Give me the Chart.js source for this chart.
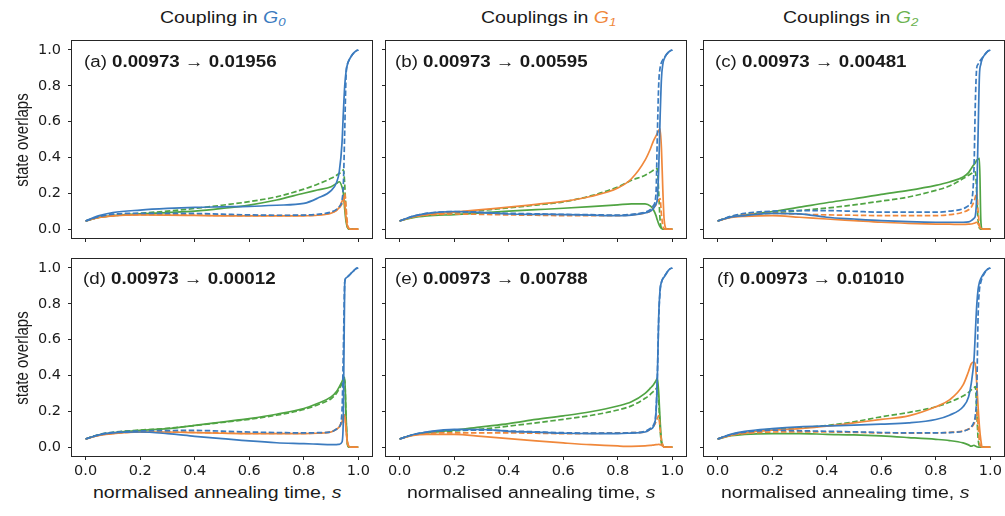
<!DOCTYPE html>
<html>
<head>
<meta charset="utf-8">
<script src="https://cdn.jsdelivr.net/npm/chart.js@4.4.1/dist/chart.umd.min.js"></script>
<style>
html, body { margin: 0; padding: 0; background: #fff; }
#fig { position: relative; width: 1005px; height: 516px; overflow: hidden;
       font-family: "Liberation Sans", Arial, sans-serif; color: #1a1a1a; }
.panel { position: absolute; }
.panel canvas { display: block; }
.txt { position: absolute; white-space: nowrap; font-size: 16px; line-height: 16px;
       transform: scaleX(1.22); transform-origin: 0 50%; }
.txt.lab { transform: scaleX(1.17); }
.txt b { font-weight: bold; }
.ytitle { position: absolute; white-space: nowrap; font-size: 15px; line-height: 15px;
          transform: translate(-50%, -50%) rotate(-90deg) scaleY(1.2); }
.g { font-style: italic; }
.g sub { font-size: 0.68em; vertical-align: -0.25em; line-height: 0; }
</style>
</head>
<body>
<div id="fig"></div>
<script>
// normalised annealing time grid (shared by every curve)
const S = [0, 0.05, 0.1, 0.2, 0.3, 0.4, 0.5, 0.6, 0.7, 0.8, 0.85, 0.9, 0.92, 0.93, 0.94, 0.945, 0.95, 0.955, 0.96, 0.965, 0.97, 0.98, 0.99, 1.0];
const X_TICKS = [0, 0.2, 0.4, 0.6, 0.8, 1.0];
const Y_TICKS = [0, 0.2, 0.4, 0.6, 0.8, 1.0];

const COL_BLUE = '#3b7bbf';
const COL_ORANGE = '#f0883b';
const COL_GREEN = '#50a443';

// (a) coupling in G0: 0.00973 -> 0.01956
const aBlue       = [0.045, 0.075, 0.092, 0.106, 0.115, 0.121, 0.124, 0.127, 0.133, 0.143, 0.172, 0.215, 0.26, 0.32, 0.48, 0.65, 0.8, 0.88, 0.92, 0.94, 0.955, 0.978, 0.993, 1.0];
const aBlueDash   = [0.045, 0.07, 0.083, 0.088, 0.088, 0.087, 0.083, 0.079, 0.077, 0.078, 0.082, 0.095, 0.11, 0.125, 0.16, 0.25, 0.55, 0.86, 0.92, 0.94, 0.955, 0.978, 0.993, 1.0];
const aOrange     = [0.045, 0.065, 0.074, 0.079, 0.078, 0.076, 0.074, 0.073, 0.073, 0.074, 0.077, 0.088, 0.105, 0.12, 0.155, 0.17, 0.14, 0.06, 0.015, 0.003, 0, 0, 0, 0];
const aOrangeDash = [0.045, 0.065, 0.074, 0.08, 0.08, 0.078, 0.076, 0.075, 0.075, 0.076, 0.079, 0.09, 0.105, 0.118, 0.14, 0.16, 0.2, 0.12, 0.03, 0.005, 0, 0, 0, 0];
const aGreen      = [0.045, 0.065, 0.075, 0.085, 0.092, 0.1, 0.115, 0.134, 0.162, 0.2, 0.218, 0.236, 0.255, 0.264, 0.235, 0.2, 0.11, 0.04, 0.01, 0.002, 0, 0, 0, 0];
const aGreenDash  = [0.045, 0.067, 0.077, 0.088, 0.1, 0.115, 0.133, 0.153, 0.18, 0.223, 0.25, 0.283, 0.3, 0.31, 0.322, 0.33, 0.25, 0.08, 0.01, 0, 0, 0, 0, 0];

// (b) couplings in G1: 0.00973 -> 0.00595
const bBlue       = [0.045, 0.072, 0.088, 0.098, 0.092, 0.084, 0.082, 0.081, 0.078, 0.075, 0.078, 0.09, 0.1, 0.113, 0.14, 0.17, 0.34, 0.62, 0.84, 0.92, 0.95, 0.978, 0.993, 1.0];
const bBlueDash   = [0.045, 0.072, 0.088, 0.098, 0.093, 0.088, 0.085, 0.082, 0.08, 0.078, 0.082, 0.095, 0.11, 0.13, 0.2, 0.53, 0.81, 0.9, 0.93, 0.945, 0.955, 0.978, 0.993, 1.0];
const bOrange     = [0.045, 0.068, 0.08, 0.094, 0.108, 0.122, 0.138, 0.154, 0.182, 0.229, 0.281, 0.385, 0.45, 0.49, 0.52, 0.535, 0.55, 0.56, 0.45, 0.22, 0.05, 0, 0, 0];
const bOrangeDash = [0.045, 0.068, 0.078, 0.084, 0.082, 0.079, 0.077, 0.075, 0.075, 0.075, 0.079, 0.09, 0.1, 0.12, 0.135, 0.145, 0.16, 0.17, 0.08, 0.02, 0, 0, 0, 0];
const bGreen      = [0.045, 0.064, 0.073, 0.081, 0.09, 0.1, 0.108, 0.116, 0.125, 0.135, 0.141, 0.141, 0.128, 0.109, 0.075, 0.05, 0.028, 0.012, 0.004, 0, 0, 0, 0, 0];
const bGreenDash  = [0.045, 0.068, 0.08, 0.09, 0.104, 0.118, 0.134, 0.152, 0.185, 0.235, 0.272, 0.3, 0.318, 0.328, 0.335, 0.338, 0.2, 0.05, 0.005, 0, 0, 0, 0, 0];

// (c) couplings in G2: 0.00973 -> 0.00481
const cBlue       = [0.045, 0.068, 0.075, 0.088, 0.085, 0.066, 0.056, 0.047, 0.041, 0.038, 0.038, 0.038, 0.04, 0.047, 0.06, 0.075, 0.19, 0.53, 0.86, 0.92, 0.95, 0.975, 0.992, 1.0];
const cBlueDash   = [0.045, 0.072, 0.088, 0.1, 0.103, 0.103, 0.099, 0.094, 0.094, 0.094, 0.1, 0.113, 0.13, 0.15, 0.34, 0.71, 0.9, 0.92, 0.935, 0.945, 0.955, 0.975, 0.992, 1.0];
const cOrange     = [0.045, 0.065, 0.071, 0.075, 0.066, 0.056, 0.047, 0.038, 0.032, 0.028, 0.027, 0.026, 0.027, 0.028, 0.032, 0.035, 0.038, 0.03, 0.015, 0.005, 0, 0, 0, 0];
const cOrangeDash = [0.045, 0.068, 0.08, 0.088, 0.083, 0.079, 0.077, 0.075, 0.075, 0.075, 0.08, 0.094, 0.108, 0.122, 0.155, 0.18, 0.207, 0.1, 0.02, 0, 0, 0, 0, 0];
const cGreen      = [0.045, 0.068, 0.079, 0.098, 0.122, 0.147, 0.169, 0.194, 0.216, 0.244, 0.263, 0.291, 0.315, 0.338, 0.36, 0.37, 0.385, 0.39, 0.395, 0.05, 0, 0, 0, 0];
const cGreenDash  = [0.045, 0.07, 0.08, 0.09, 0.103, 0.117, 0.135, 0.156, 0.179, 0.216, 0.24, 0.282, 0.3, 0.31, 0.318, 0.32, 0.2, 0.05, 0.005, 0, 0, 0, 0, 0];

// (d) coupling in G0: 0.00973 -> 0.00012
const dBlue       = [0.045, 0.068, 0.079, 0.084, 0.075, 0.06, 0.047, 0.034, 0.024, 0.019, 0.016, 0.013, 0.014, 0.015, 0.028, 0.17, 0.92, 0.944, 0.95, 0.957, 0.965, 0.98, 0.995, 1.0];
const dBlueDash   = [0.045, 0.07, 0.082, 0.09, 0.092, 0.093, 0.089, 0.084, 0.081, 0.079, 0.08, 0.084, 0.1, 0.112, 0.2, 0.54, 0.92, 0.944, 0.95, 0.957, 0.965, 0.98, 0.995, 1.0];
const dOrange     = [0.045, 0.065, 0.075, 0.084, 0.084, 0.08, 0.077, 0.075, 0.075, 0.075, 0.077, 0.084, 0.1, 0.112, 0.14, 0.17, 0.178, 0.09, 0.02, 0.003, 0, 0, 0, 0];
const dOrangeDash = [0.045, 0.066, 0.076, 0.084, 0.084, 0.082, 0.079, 0.076, 0.076, 0.076, 0.078, 0.086, 0.1, 0.115, 0.145, 0.175, 0.18, 0.1, 0.03, 0.005, 0, 0, 0, 0];
const dGreen      = [0.045, 0.068, 0.079, 0.093, 0.103, 0.121, 0.14, 0.159, 0.183, 0.215, 0.243, 0.28, 0.31, 0.336, 0.365, 0.383, 0.389, 0.17, 0.02, 0, 0, 0, 0, 0];
const dGreenDash  = [0.045, 0.07, 0.082, 0.095, 0.104, 0.12, 0.137, 0.155, 0.178, 0.21, 0.235, 0.27, 0.3, 0.325, 0.355, 0.37, 0.375, 0.15, 0.015, 0, 0, 0, 0, 0];

// (e) couplings in G1: 0.00973 -> 0.00788
const eBlue       = [0.045, 0.07, 0.084, 0.099, 0.098, 0.088, 0.083, 0.077, 0.075, 0.075, 0.078, 0.084, 0.1, 0.113, 0.19, 0.39, 0.73, 0.88, 0.92, 0.94, 0.95, 0.975, 0.993, 1.0];
const eBlueDash   = [0.045, 0.07, 0.083, 0.094, 0.095, 0.09, 0.085, 0.08, 0.078, 0.078, 0.08, 0.088, 0.105, 0.12, 0.2, 0.4, 0.72, 0.87, 0.92, 0.94, 0.95, 0.975, 0.993, 1.0];
const eOrange     = [0.045, 0.065, 0.071, 0.071, 0.06, 0.047, 0.034, 0.023, 0.013, 0.006, 0.004, 0.006, 0.009, 0.011, 0.013, 0.014, 0.015, 0.013, 0.01, 0.005, 0, 0, 0, 0];
const eOrangeDash = [0.045, 0.068, 0.077, 0.079, 0.079, 0.079, 0.077, 0.075, 0.076, 0.079, 0.08, 0.084, 0.1, 0.113, 0.14, 0.16, 0.175, 0.1, 0.04, 0.01, 0, 0, 0, 0];
const eGreen      = [0.045, 0.068, 0.079, 0.094, 0.113, 0.131, 0.154, 0.174, 0.197, 0.229, 0.253, 0.3, 0.33, 0.347, 0.37, 0.385, 0.3, 0.15, 0.04, 0.01, 0, 0, 0, 0];
const eGreenDash  = [0.045, 0.068, 0.079, 0.09, 0.1, 0.117, 0.135, 0.155, 0.176, 0.207, 0.23, 0.272, 0.295, 0.31, 0.325, 0.335, 0.25, 0.1, 0.02, 0.005, 0, 0, 0, 0];

// (f) couplings in G2: 0.00973 -> 0.01010
const fBlue       = [0.045, 0.072, 0.088, 0.103, 0.113, 0.118, 0.122, 0.128, 0.135, 0.154, 0.178, 0.225, 0.28, 0.356, 0.49, 0.64, 0.79, 0.88, 0.92, 0.94, 0.955, 0.978, 0.993, 1.0];
const fBlueDash   = [0.045, 0.07, 0.083, 0.094, 0.091, 0.088, 0.085, 0.081, 0.079, 0.079, 0.081, 0.088, 0.1, 0.113, 0.14, 0.178, 0.3, 0.73, 0.88, 0.92, 0.945, 0.975, 0.993, 1.0];
const fOrange     = [0.045, 0.066, 0.079, 0.094, 0.103, 0.116, 0.135, 0.154, 0.174, 0.225, 0.263, 0.347, 0.422, 0.465, 0.475, 0.46, 0.356, 0.225, 0.113, 0.04, 0, 0, 0, 0];
const fOrangeDash = [0.045, 0.066, 0.076, 0.084, 0.085, 0.084, 0.082, 0.079, 0.078, 0.079, 0.082, 0.09, 0.1, 0.11, 0.13, 0.15, 0.2, 0.12, 0.03, 0.005, 0, 0, 0, 0];
const fGreen      = [0.045, 0.063, 0.071, 0.075, 0.075, 0.071, 0.068, 0.062, 0.053, 0.043, 0.036, 0.023, 0.012, 0.005, 0.01, 0.006, 0.002, 0, 0, 0, 0, 0, 0, 0];
const fGreenDash  = [0.045, 0.07, 0.083, 0.1, 0.107, 0.12, 0.141, 0.169, 0.193, 0.225, 0.25, 0.285, 0.305, 0.319, 0.33, 0.338, 0.2, 0.05, 0.005, 0, 0, 0, 0, 0];

const PANEL_SERIES = [
  [aBlue, aBlueDash, aOrange, aOrangeDash, aGreen, aGreenDash],
  [bBlue, bBlueDash, bOrange, bOrangeDash, bGreen, bGreenDash],
  [cBlue, cBlueDash, cOrange, cOrangeDash, cGreen, cGreenDash],
  [dBlue, dBlueDash, dOrange, dOrangeDash, dGreen, dGreenDash],
  [eBlue, eBlueDash, eOrange, eOrangeDash, eGreen, eGreenDash],
  [fBlue, fBlueDash, fOrange, fOrangeDash, fGreen, fGreenDash],
];
const PANEL_TAGS = ['(a)', '(b)', '(c)', '(d)', '(e)', '(f)'];
const PANEL_VALUES = ['0.00973 \u2192 0.01956', '0.00973 \u2192 0.00595', '0.00973 \u2192 0.00481',
                      '0.00973 \u2192 0.00012', '0.00973 \u2192 0.00788', '0.00973 \u2192 0.01010'];

// ---- layout (canvas boxes so that each plot frame lands where the figure has it) ----
const COLS = [
  { left: 0,   yw: 72, padR: 4 },   // frame 72..372
  { left: 374, yw: 12, padR: 4 },   // frame 386..686
  { left: 692, yw: 12, padR: 1 },   // frame 704..1004
];
const ROWS = [
  { top: 36,  xh: 8 },    // frame 41..238, tick marks only
  { top: 254, xh: 26 },   // frame 259..456, tick labels
];
const FRAME_W = 300, FRAME_H = 197, PAD_TOP = 5;

const framePlugin = {
  id: 'frame',
  afterDatasetsDraw(chart) {
    const a = chart.chartArea, c = chart.ctx;
    c.save();
    c.strokeStyle = '#262626';
    c.lineWidth = 1;
    c.strokeRect(Math.round(a.left) - 0.5, Math.round(a.top) - 0.5,
                 Math.round(a.right - a.left) + 1, Math.round(a.bottom - a.top) + 1);
    c.restore();
  }
};

// scales keep a fixed size and ask for no extra room, so every frame sits at the same place
function fixScale(ax, size) {
  if (ax.isHorizontal()) ax.height = size; else ax.width = size;
  ax.paddingTop = 0; ax.paddingBottom = 0; ax.paddingLeft = 0; ax.paddingRight = 0;
}

const fig = document.getElementById('fig');
const tickFont = { family: 'DejaVu Sans', size: 14.5 };

function makePanel(idx) {
  const col = COLS[idx % 3], row = ROWS[Math.floor(idx / 3)];
  const showY = idx % 3 === 0, showX = idx >= 3;
  const w = col.yw + FRAME_W + col.padR, h = PAD_TOP + FRAME_H + row.xh;

  const wrap = document.createElement('div');
  wrap.className = 'panel';
  wrap.style.left = col.left + 'px';
  wrap.style.top = row.top + 'px';
  const cv = document.createElement('canvas');
  cv.width = w; cv.height = h;
  cv.style.width = w + 'px'; cv.style.height = h + 'px';
  wrap.appendChild(cv);
  fig.appendChild(wrap);

  const colors = [COL_BLUE, COL_BLUE, COL_ORANGE, COL_ORANGE, COL_GREEN, COL_GREEN];
  const datasets = PANEL_SERIES[idx].map((vals, k) => ({
    data: S.map((s, i) => ({ x: s, y: vals[i] })),
    borderColor: colors[k],
    borderDash: k % 2 ? [5.5, 2.5] : [],
    borderWidth: 1.7,
    pointRadius: 0,
    cubicInterpolationMode: 'monotone',
    fill: false
  }));

  const gridOpts = { drawOnChartArea: false, drawTicks: true, tickLength: 4, color: '#262626', lineWidth: 1 };

  new Chart(cv, {
    type: 'line',
    data: { datasets },
    plugins: [framePlugin],
    options: {
      responsive: false,
      animation: false,
      devicePixelRatio: 1,
      layout: { autoPadding: false, padding: { top: PAD_TOP, right: col.padR, left: 0, bottom: 0 } },
      plugins: { legend: { display: false }, tooltip: { enabled: false } },
      scales: {
        x: {
          type: 'linear', min: -0.05, max: 1.05,
          afterBuildTicks: ax => { ax.ticks = X_TICKS.map(v => ({ value: v })); },
          afterFit: ax => fixScale(ax, row.xh),
          grid: gridOpts,
          border: { display: false },
          ticks: { display: showX, font: tickFont, color: '#1a1a1a', padding: 3,
                   maxRotation: 0, autoSkip: false, callback: v => v.toFixed(1) }
        },
        y: {
          type: 'linear', min: -0.05, max: 1.05,
          afterBuildTicks: ax => { ax.ticks = Y_TICKS.map(v => ({ value: v })); },
          afterFit: ax => fixScale(ax, col.yw),
          grid: gridOpts,
          border: { display: false },
          ticks: { display: showY, font: tickFont, color: '#1a1a1a', padding: 7,
                   autoSkip: false, callback: v => v.toFixed(1) }
        }
      }
    }
  });
}

for (let i = 0; i < 6; i++) makePanel(i);

// ---- text: column titles, panel labels, axis titles ----
function addText(html, left, top, cls) {
  const d = document.createElement('div');
  d.className = cls || 'txt';
  d.style.left = left + 'px';
  d.style.top = top + 'px';
  d.innerHTML = html;
  fig.appendChild(d);
}

addText('Coupling in <span class="g" style="color:' + COL_BLUE + '">G<sub>0</sub></span>', 160, 9.5);
addText('Couplings in <span class="g" style="color:' + COL_ORANGE + '">G<sub>1</sub></span>', 481, 9.5);
addText('Couplings in <span class="g" style="color:#6cb34f">G<sub>2</sub></span>', 783, 9.5);

const LABEL_POS = [[84, 53.7], [395, 53.7], [715, 53.7], [83, 270.7], [395, 270.7], [717, 270.7]];
LABEL_POS.forEach((p, i) => addText(PANEL_TAGS[i] + ' <b>' + PANEL_VALUES[i] + '</b>', p[0], p[1], 'txt lab'));

[93, 407, 721].forEach(x => addText('normalised annealing time, <i>s</i>', x, 484.5));
[139.5, 357.5].forEach(y => addText('state overlaps', 20.5, y, 'ytitle'));
</script>
</body>
</html>
